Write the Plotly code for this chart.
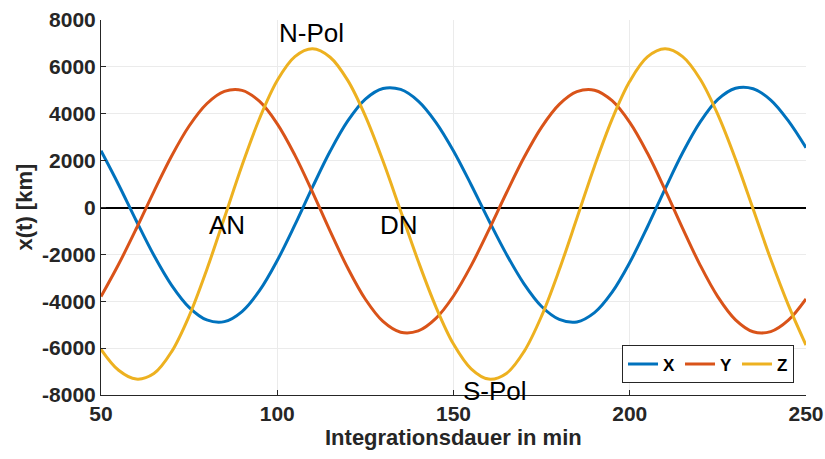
import plotly.graph_objects as go

# Time samples (min)
t = list(range(50, 255, 5))

x_vals = [2420, 972, -566, -2040, -3310, -4259, -4797, -4870, -4439, -3540,
          -2262, -744, 867, 2398, 3694, 4626, 5078, 5037, 4540, 3636,
          2413, 973, -543, -1990, -3258, -4224, -4774, -4882, -4488, -3614,
          -2348, -833, 785, 2336, 3652, 4611, 5088, 5068, 4586, 3697, 2550]

y_vals = [-3800, -2423, -906, 681, 2188, 3477, 4428, 4953, 4997, 4523,
          3570, 2236, 655, -1009, -2584, -3916, -4862, -5321, -5266, -4733,
          -3775, -2481, -969, 618, 2131, 3431, 4399, 4941, 5006, 4557,
          3632, 2323, 765, -888, -2467, -3813, -4792, -5300, -5294, -4807, -3900]

z_vals = [-6050, -6944, -7321, -7087, -6160, -4629, -2652, -439, 1795, 3809,
          5419, 6437, 6770, 6411, 5423, 3900, 1980, -150, -2293, -4238,
          -5828, -6884, -7322, -7078, -6148, -4625, -2659, -460, 1761, 3770,
          5383, 6424, 6770, 6438, 5474, 3963, 2065, -63, -2210, -4167, -5870]

series_names = ["X", "Y", "Z"]
series_colors = ["#0072BD", "#D95319", "#EDB120"]

x_ticks = [50, 100, 150, 200, 250]
y_ticks = [-8000, -6000, -4000, -2000, 0, 2000, 4000, 6000, 8000]

labels = ["N-Pol", "AN", "DN", "S-Pol"]
label_x = [109.8, 85.7, 134.6, 161.8]
label_y = [7430, -750, -750, -7830]

x_title = "Integrationsdauer in min"
y_title = "x(t) [km]"

fig = go.Figure()
for name, vals, col in zip(series_names, [x_vals, y_vals, z_vals], series_colors):
    fig.add_trace(go.Scatter(x=t, y=vals, mode="lines", name=name,
                             line=dict(color=col, width=3, shape="spline")))

for txt, lx, ly in zip(labels, label_x, label_y):
    fig.add_annotation(x=lx, y=ly, text=txt, showarrow=False,
                       font=dict(family="Liberation Sans", size=26, color="black"))

axis_font = dict(family="Liberation Sans", size=21, color="#262626", weight="bold")
title_font = dict(family="Liberation Sans", size=22, color="#262626", weight="bold")

# axis titles as paper annotations
fig.add_annotation(xref="paper", yref="paper", x=0.5, y=0, yshift=-42,
                   text=x_title, showarrow=False, font=title_font,
                   xanchor="center", yanchor="middle")
fig.add_annotation(xref="paper", yref="paper", x=0, y=0.5, xshift=-77,
                   text=y_title, showarrow=False, font=title_font, textangle=-90,
                   xanchor="center", yanchor="middle")

fig.update_layout(
    width=825, height=459,
    margin=dict(l=101, r=19, t=20, b=64, autoexpand=False),
    paper_bgcolor="white", plot_bgcolor="white",
    showlegend=True,
    legend=dict(orientation="h", x=0.983, y=0.031, xanchor="right", yanchor="bottom",
                bgcolor="white", bordercolor="#262626", borderwidth=1,
                font=dict(family="Liberation Sans", size=17, color="black", weight="bold"),
                itemwidth=30, tracegroupgap=0),
    xaxis=dict(range=[50, 250], tickvals=x_ticks, ticktext=[str(v) for v in x_ticks],
               showgrid=True, gridcolor="#ebebeb", gridwidth=1,
               showline=True, linecolor="#262626", linewidth=1, mirror=False,
               ticks="inside", ticklen=5, tickcolor="#262626",
               tickfont=axis_font, zeroline=False, automargin=False),
    yaxis=dict(range=[-8000, 8000], tickvals=y_ticks, ticktext=[str(v) for v in y_ticks],
               showgrid=True, gridcolor="#ebebeb", gridwidth=1,
               showline=True, linecolor="#262626", linewidth=1, mirror=False,
               ticks="inside", ticklen=5, tickcolor="#262626",
               tickfont=axis_font, automargin=False,
               zeroline=True, zerolinecolor="black", zerolinewidth=1.5),
)

fig.write_html("out.html",
               config={"displayModeBar": False},
               post_script="document.body.style.margin='0';document.body.style.overflow='hidden';")
